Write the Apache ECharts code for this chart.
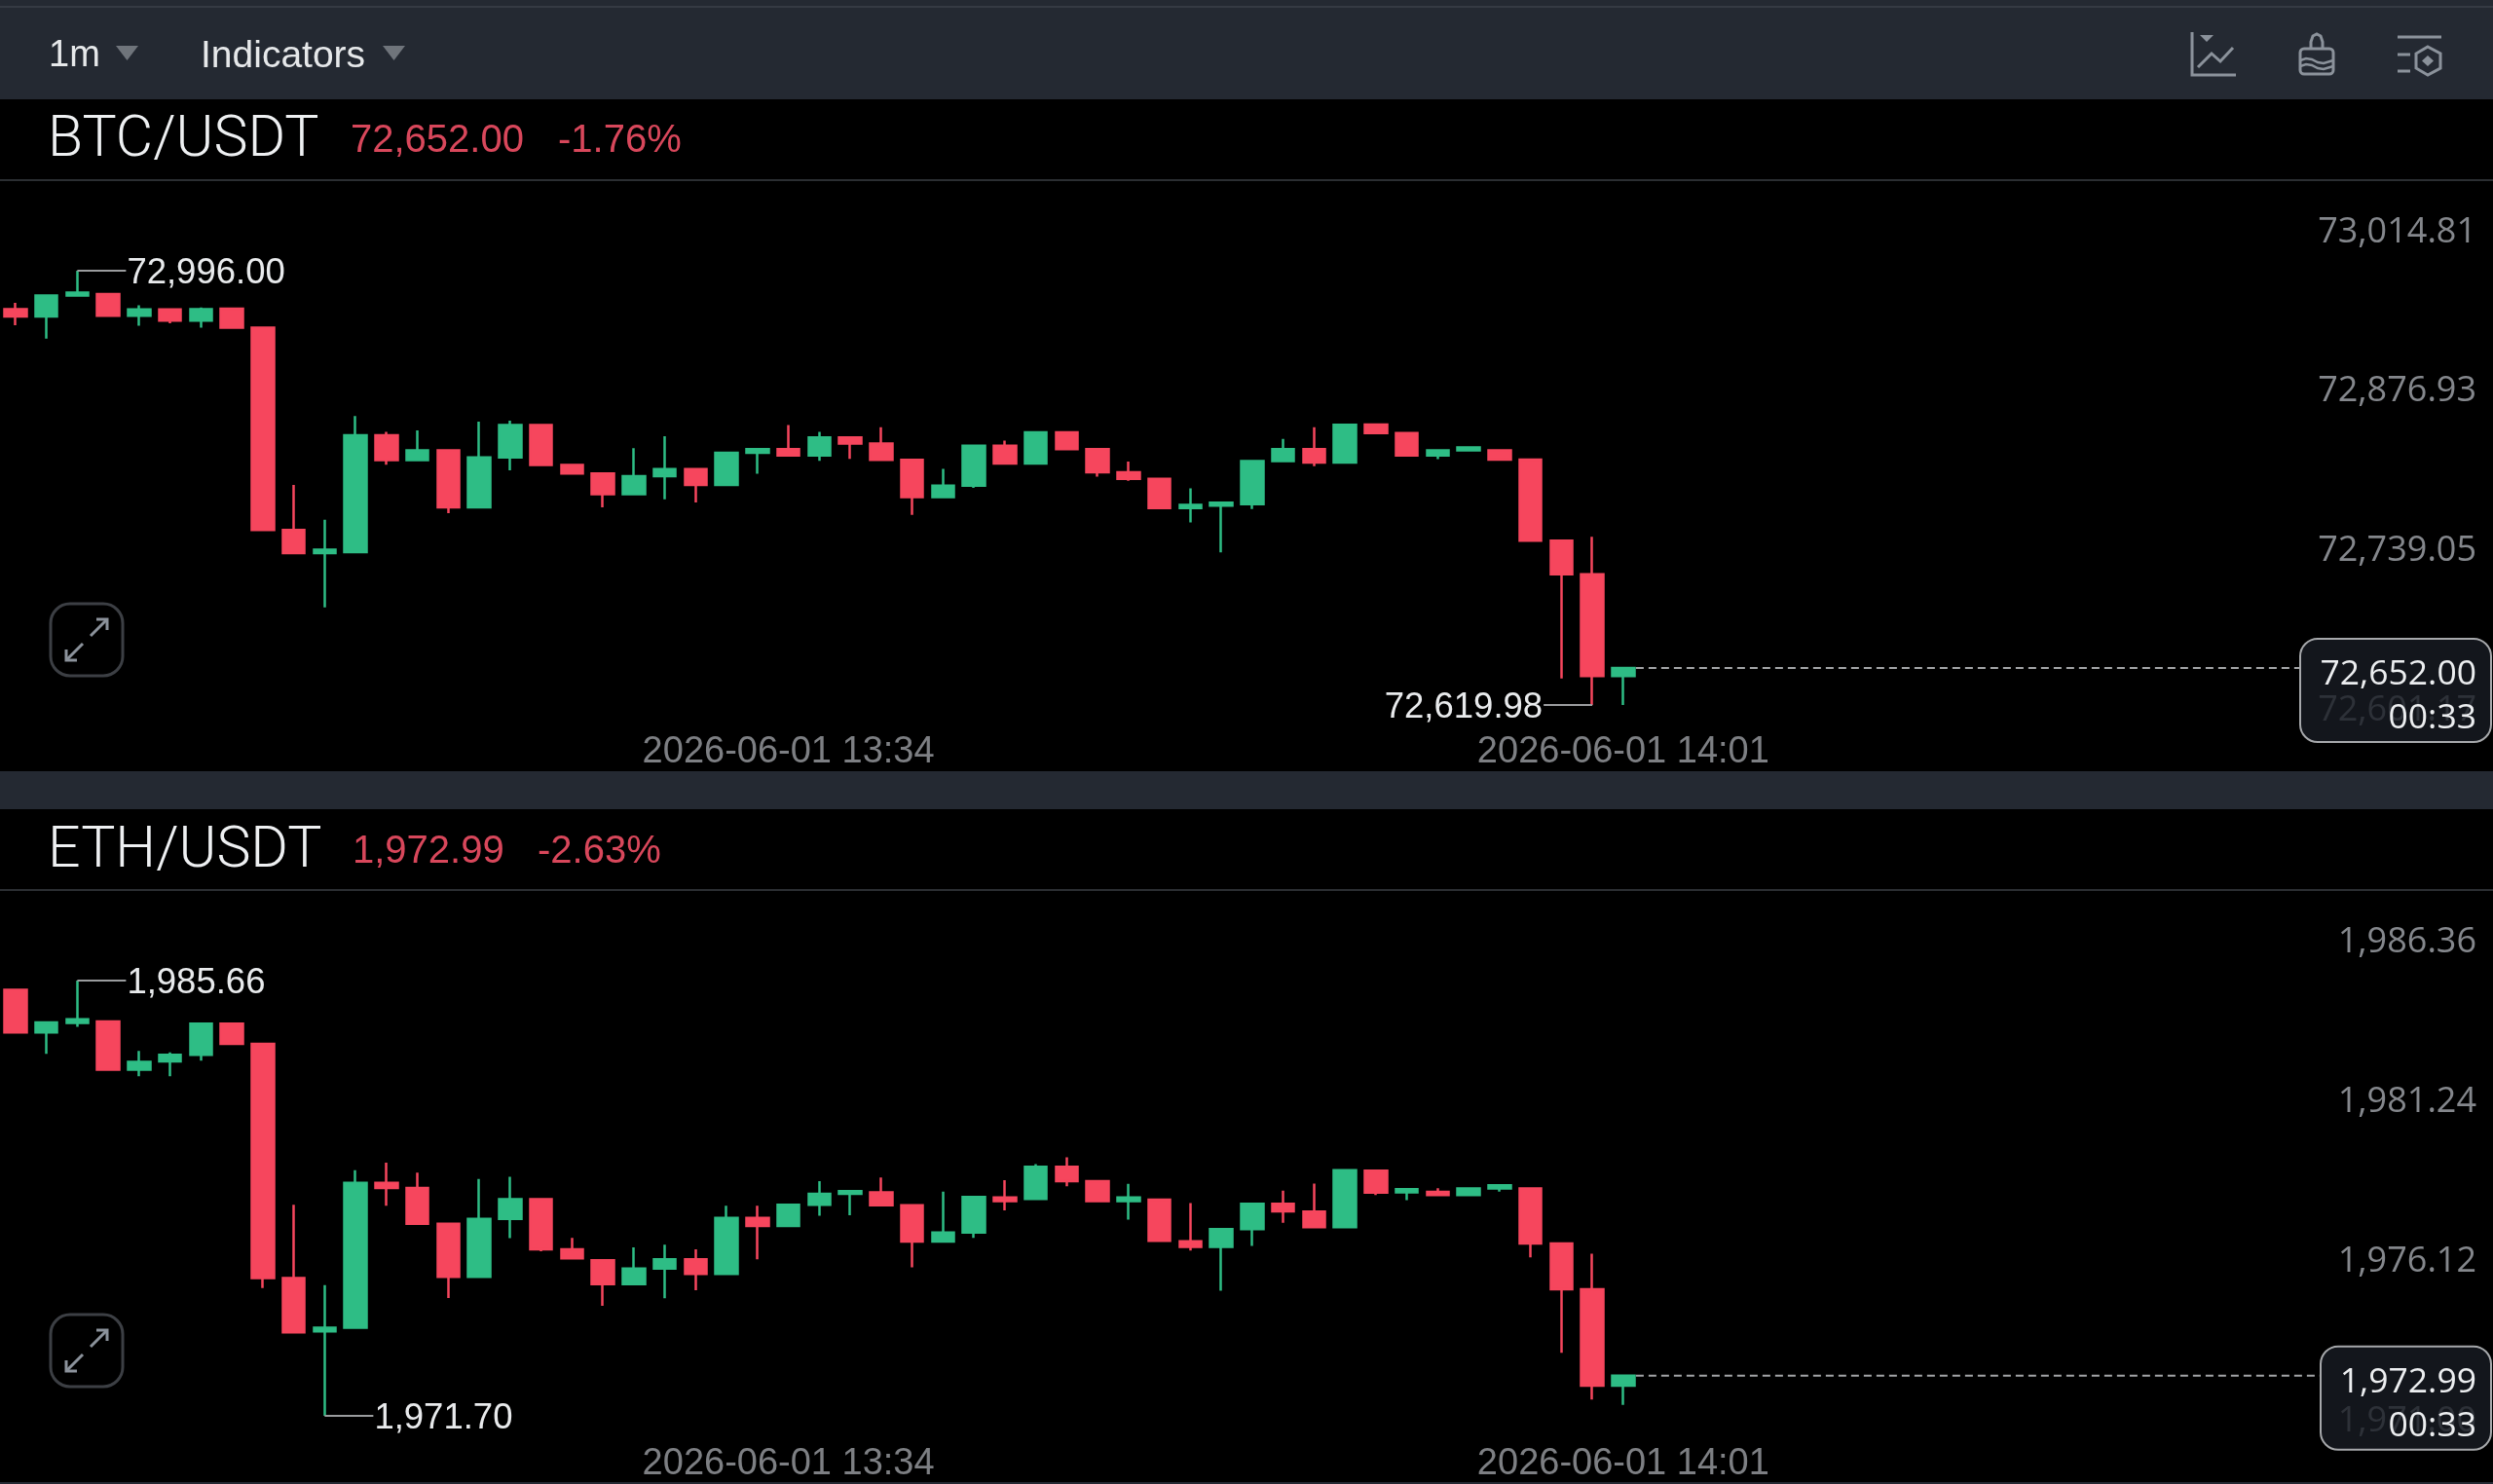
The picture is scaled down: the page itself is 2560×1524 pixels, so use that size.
<!DOCTYPE html>
<html><head><meta charset="utf-8">
<style>html,body{margin:0;padding:0;background:#000}#c{width:2560px;height:1524px}</style>
<script src="https://cdn.jsdelivr.net/npm/echarts@6/dist/echarts.min.js"></script>
</head><body><div id="c"></div>
<script>
const minutes = ['13:09','13:10','13:11','13:12','13:13','13:14','13:15','13:16','13:17','13:18','13:19','13:20','13:21','13:22','13:23','13:24','13:25','13:26','13:27','13:28','13:29','13:30','13:31','13:32','13:33','13:34','13:35','13:36','13:37','13:38','13:39','13:40','13:41','13:42','13:43','13:44','13:45','13:46','13:47','13:48','13:49','13:50','13:51','13:52','13:53','13:54','13:55','13:56','13:57','13:58','13:59','14:00','14:01','14:02','14:03','14:04','14:05','14:06','14:07','14:08','14:09','14:10','14:11','14:12','14:13','14:14','14:15','14:16','14:17','14:18','14:19','14:20','14:21','14:22','14:23','14:24','14:25','14:26','14:27','14:28'];
const shownMinutes = ['13:34','14:01'];

// [open, close, low, high]
const btcCandles = [
[72962.7,72956.4,72948.7,72968.1],[72956.4,72974.4,72937.1,72974.4],[72974.4,72977.1,72973.7,72996.0],[72975.7,72957.1,72957.1,72975.7],
[72957.1,72962.4,72948.4,72966.1],[72962.4,72952.7,72950.4,72962.4],[72952.7,72962.7,72946.7,72964.1],[72963.1,72946.7,72946.7,72963.1],
[72946.7,72771.4,72770.4,72946.7],[72771.4,72751.4,72751.4,72810.4],[72751.4,72754.4,72704.4,72780.4],[72752.4,72853.4,72752.4,72870.1],
[72853.4,72832.1,72828.1,72856.4],[72832.1,72840.4,72832.1,72857.7],[72840.4,72791.1,72786.1,72840.4],[72791.1,72834.4,72791.1,72865.4],
[72834.4,72862.4,72823.1,72866.1],[72862.4,72827.7,72827.7,72862.4],[72827.7,72820.4,72820.4,72827.7],[72820.4,72802.4,72791.1,72820.4],
[72802.4,72818.1,72802.4,72842.4],[72818.1,72824.1,72798.1,72852.7],[72824.1,72810.4,72795.4,72824.1],[72810.4,72838.4,72810.4,72838.4],
[72838.4,72841.4,72820.1,72841.4],[72841.4,72836.1,72836.1,72862.4],[72836.1,72851.7,72831.4,72856.4],[72851.7,72846.4,72833.1,72851.7],
[72846.4,72832.3,72832.3,72860.4],[72832.3,72800.0,72784.6,72832.3],[72800.0,72809.9,72800.0,72824.4],[72809.9,72844.4,72807.9,72844.4],
[72844.4,72829.1,72829.1,72848.8],[72829.1,72856.1,72829.1,72856.1],[72856.1,72841.5,72841.5,72856.1],[72841.5,72821.5,72817.7,72841.5],
[72821.5,72815.7,72814.0,72830.8],[72815.7,72790.4,72790.4,72815.7],[72790.4,72793.3,72778.0,72807.6],[72792.5,72795.1,72752.1,72795.1],
[72793.9,72831.1,72789.6,72831.1],[72831.1,72841.5,72830.2,72850.3],[72841.5,72829.9,72826.7,72860.4],[72829.9,72862.5,72829.9,72862.5],
[72862.7,72855.5,72855.5,72862.7],[72855.5,72836.0,72836.0,72855.5],[72836.0,72840.4,72832.8,72840.4],[72840.4,72843.0,72840.4,72843.0],
[72840.4,72832.5,72832.5,72840.4],[72832.5,72762.3,72762.3,72832.5],[72762.3,72733.2,72642.9,72762.3],[72733.2,72645.0,72619.98,72765.5],
[72645.0,72652.0,72620.0,72652.0]];

const ethCandles = [
[1985.36,1984.00,1984.00,1985.36],[1984.00,1984.32,1983.31,1984.32],[1984.30,1984.42,1984.18,1985.66],[1984.35,1982.80,1982.80,1984.35],
[1982.80,1983.05,1982.59,1983.40],[1983.07,1983.28,1982.59,1983.36],[1983.28,1984.28,1983.09,1984.28],[1984.28,1983.63,1983.63,1984.28],
[1983.63,1976.12,1975.80,1983.63],[1976.12,1974.38,1974.38,1978.47],[1974.41,1974.53,1971.70,1975.89],[1974.53,1979.17,1974.53,1979.58],
[1979.17,1979.01,1978.44,1979.82],[1979.01,1977.86,1977.86,1979.50],[1977.86,1976.16,1975.48,1977.86],[1976.16,1978.02,1976.16,1979.30],
[1978.02,1978.65,1977.40,1979.37],[1978.65,1977.04,1976.98,1978.65],[1977.04,1976.75,1976.75,1977.41],[1976.69,1975.92,1975.23,1976.69],
[1975.92,1976.42,1975.92,1977.10],[1976.42,1976.72,1975.47,1977.19],[1976.72,1976.25,1975.73,1977.04],[1976.25,1978.05,1976.25,1978.44],
[1978.05,1977.79,1976.72,1978.44],[1977.79,1978.47,1977.79,1978.47],[1978.47,1978.82,1978.12,1979.23],[1978.82,1978.91,1978.13,1978.91],
[1978.87,1978.45,1978.45,1979.34],[1978.45,1977.29,1976.46,1978.45],[1977.29,1977.58,1977.29,1978.89],[1977.58,1978.72,1977.41,1978.72],
[1978.70,1978.59,1978.29,1979.26],[1978.66,1979.69,1978.62,1979.77],[1979.69,1979.23,1979.06,1979.99],[1979.23,1978.59,1978.59,1979.23],
[1978.59,1978.70,1977.99,1979.14],[1978.63,1977.31,1977.31,1978.63],[1977.30,1977.12,1977.00,1978.52],[1977.12,1977.69,1975.71,1977.69],
[1977.69,1978.50,1977.15,1978.50],[1978.50,1978.26,1977.89,1978.92],[1978.25,1977.75,1977.75,1979.15],[1977.75,1979.58,1977.72,1979.58],
[1979.56,1978.86,1978.78,1979.56],[1978.87,1978.97,1978.62,1978.97],[1978.88,1978.78,1978.78,1979.00],[1978.78,1978.99,1978.78,1978.99],
[1978.99,1979.09,1978.89,1979.09],[1978.99,1977.23,1976.78,1978.99],[1977.23,1975.76,1973.72,1977.23],[1975.76,1972.67,1972.22,1976.90],
[1972.67,1972.99,1972.05,1972.99]];

const btcTicks = [73014.81,72876.93,72739.05,72601.17];
const ethTicks = [1986.36,1981.24,1976.12,1971.00];
const btcRange = [72561.76,73074.42];
const ethRange = [1969.514,1988.564];
// [candle index, price]
const btcMarks = [[2,72996.00],[51,72619.98]];
const ethMarks = [[2,1985.66],[10,1971.70]];
const btcLast = 72652.00, ethLast = 1972.99;
const btcChange = '-1.76%', ethChange = '-2.63%';

const RED='#F6465D', GREEN='#2EBD85', BAR='#242932', HEAD='#2b2e32';
const FONT='"Liberation Sans"', NUM='"Open Sans"', LIGHT='300 59px Roboto';
const fmt=v=>v.toLocaleString('en-US',{minimumFractionDigits:2,maximumFractionDigits:2});

const timeLabels = minutes.map(m=>'2026-06-01 '+m);

function xAxis(gridIndex){return {
  type:'category',gridIndex,data:timeLabels,boundaryGap:true,
  axisLine:{show:false},axisTick:{show:false},splitLine:{show:false},
  axisLabel:{inside:true,margin:1,color:'#7d7f83',fontFamily:FONT,fontSize:38,
    interval:i=>shownMinutes.includes(minutes[i]),formatter:v=>v}
};}
function yAxis(gridIndex,range,ticks){return {
  type:'value',gridIndex,position:'right',min:range[0],max:range[1],scale:true,offset:3,
  axisLine:{show:false},axisTick:{show:false},splitLine:{show:false},
  axisLabel:{inside:true,margin:0,color:'#84878c',fontFamily:NUM,fontSize:36,customValues:ticks,
    verticalAlign:'bottom',lineHeight:34,padding:0,formatter:v=>fmt(v)}
};}
function candles(i,data){return {
  type:'candlestick',xAxisIndex:i,yAxisIndex:i,data,barWidth:23,
  itemStyle:{color:GREEN,color0:RED,borderColor:GREEN,borderColor0:RED,borderWidth:2.5}
};}
function marks(i,data){return {
  type:'custom',xAxisIndex:i,yAxisIndex:i,data,silent:true,z:5,
  encode:{x:0,y:1},
  renderItem(params,api){
    const idx=api.value(0),price=api.value(1),p=api.coord([idx,price]);
    const dir=idx>40?-1:1;
    return {type:'group',children:[
      {type:'line',shape:{x1:p[0],y1:p[1],x2:p[0]+dir*50,y2:p[1]},style:{stroke:'#9a9c9e',lineWidth:2}},
      {type:'text',style:{x:p[0]+dir*51,y:p[1]+3,text:fmt(price),fill:'#e8eaec',font:'36.5px '+FONT,
        textAlign:dir>0?'left':'right',textVerticalAlign:'middle'}}
    ]};
  }
};}
function tag(i,lastIdx,price,w){return {
  type:'custom',xAxisIndex:i,yAxisIndex:i,data:[[lastIdx,price]],silent:true,z:6,
  encode:{x:0,y:1},
  renderItem(params,api){
    const p=api.coord([api.value(0),api.value(1)]);
    const right=api.getWidth()-2,left=right-w,tx=right-15;
    return {type:'group',children:[
      {type:'line',shape:{x1:p[0]+13,y1:p[1],x2:left,y2:p[1]},style:{stroke:'#a2a4a6',lineWidth:2,lineDash:[8,5]}},
      {type:'rect',shape:{x:left,y:p[1]-30,width:w,height:106,r:18},style:{fill:'rgba(24,28,35,0.8)',stroke:'#a6a8ab',lineWidth:2}},
      {type:'text',style:{x:tx,y:p[1]+7,text:fmt(api.value(1)),fill:'#eceef0',font:'35.5px '+NUM,textAlign:'right',textVerticalAlign:'middle'}},
      {type:'text',style:{x:tx,y:p[1]+52,text:'00:33',fill:'#eceef0',font:'35.5px '+NUM,textAlign:'right',textVerticalAlign:'middle'}}
    ]};
  }
};}

const gray='#8b929b';
function pl(points,lw){return {type:'polyline',shape:{points},style:{fill:'none',stroke:gray,lineWidth:lw||3}};}
function expandBtn(x,y){return {type:'group',x,y,children:[
  {type:'rect',shape:{x:-37,y:-37,width:74,height:74,r:20},style:{fill:'transparent',stroke:'#3c3f44',lineWidth:3}},
  pl([[4,-4],[21,-21]]),pl([[10,-21],[21,-21],[21,-10]]),
  pl([[-4,4],[-21,21]]),pl([[-21,10],[-21,21],[-10,21]])
]};}
function txt(x,y,text,font,fill){return {type:'text',x,y,style:{text,fill,font,textAlign:'left',textVerticalAlign:'middle'}};}
function tri(x,y){return {type:'polygon',shape:{points:[[x,y],[x+23,y],[x+11.5,y+15]]},style:{fill:'#6f747b'}};}

const graphic=[
  {type:'rect',shape:{x:0,y:0,width:2560,height:102},style:{fill:BAR}},
  {type:'rect',shape:{x:0,y:6,width:2560,height:2},style:{fill:'#353a43'}},
  {type:'rect',shape:{x:0,y:792,width:2560,height:39},style:{fill:BAR}},
  {type:'rect',shape:{x:0,y:184,width:2560,height:2},style:{fill:HEAD}},
  {type:'rect',shape:{x:0,y:913,width:2560,height:2},style:{fill:HEAD}},
  {type:'rect',shape:{x:0,y:1522,width:2560,height:2},style:{fill:BAR}},
  txt(50,58,'1m','38px '+FONT,'#e6e8ea'),tri(119,47),
  txt(206,58,'Indicators','39px '+FONT,'#e6e8ea'),tri(393,47),
  pl([[2251,33],[2251,77],[2296,77]]),
  pl([[2257,69],[2271,55],[2280,63],[2293,49]]),
  {type:'polygon',shape:{points:[[2259,36],[2273,36],[2266,43]]},style:{fill:gray}},
  {type:'rect',shape:{x:2362,y:50,width:34,height:26,r:4},style:{fill:'none',stroke:gray,lineWidth:3}},
  pl([[2373,50],[2373,43],[2375,37],[2379,35],[2383,37],[2385,43],[2385,50]]),
  pl([[2362,62],[2368,60],[2374,61],[2380,64],[2386,65],[2396,62]],2.5),
  pl([[2362,68],[2368,66],[2374,67],[2380,70],[2386,71],[2396,68]],2.5),
  pl([[2462,38],[2507,38]]),pl([[2462,56],[2475,56]]),pl([[2462,73],[2475,73]]),
  {type:'polygon',shape:{points:[[2493,48],[2506,55],[2506,70],[2493,77],[2481,70],[2481,55]]},style:{fill:'none',stroke:gray,lineWidth:3}},
  {type:'polygon',shape:{points:[[2493,57],[2499,62.5],[2493,68],[2487,62.5]]},style:{fill:gray}},
  txt(49,145,'BTC/USDT',LIGHT,'#eef0f2'),
  txt(360,145,fmt(btcLast),'40px '+FONT,'#D8475B'),
  txt(573,145,btcChange,'40px '+FONT,'#D8475B'),
  txt(49,875,'ETH/USDT',LIGHT,'#eef0f2'),
  txt(362,875,fmt(ethLast),'40px '+FONT,'#D8475B'),
  txt(552,875,ethChange,'40px '+FONT,'#D8475B'),
  expandBtn(89,657),expandBtn(89,1387)
];

const chart=echarts.init(document.getElementById('c'),null,{renderer:'canvas'});
chart.setOption({
  animation:false,backgroundColor:'#000',
  graphic,
  grid:[{left:0,top:185,width:2540,height:608},{left:0,top:914,width:2540,height:610}],
  xAxis:[xAxis(0),xAxis(1)],
  yAxis:[yAxis(0,btcRange,btcTicks),yAxis(1,ethRange,ethTicks)],
  series:[candles(0,btcCandles),candles(1,ethCandles),marks(0,btcMarks),marks(1,ethMarks),
    tag(0,btcCandles.length-1,btcLast,196),tag(1,ethCandles.length-1,ethLast,175)]
});
</script></body></html>
